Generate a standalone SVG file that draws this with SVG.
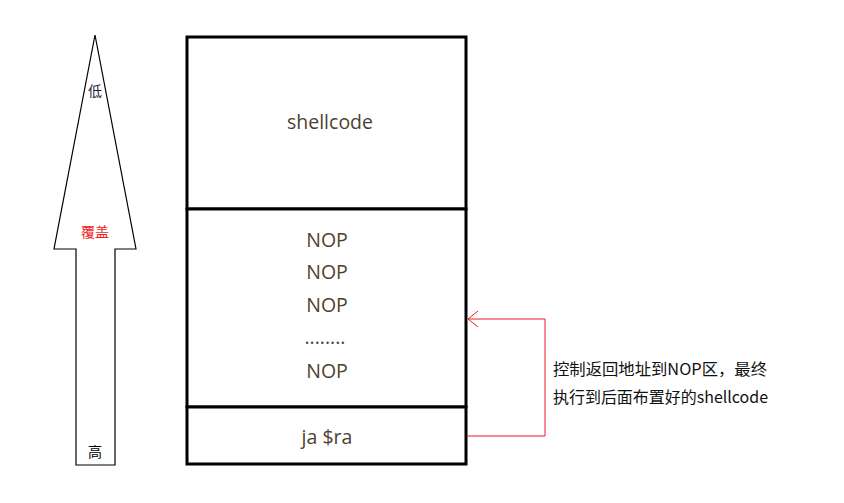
<svg xmlns="http://www.w3.org/2000/svg" width="844" height="503" viewBox="0 0 844 503">
<style>
.lbl{font-family:"Open Sans","Noto Sans CJK SC",sans-serif;font-size:19.5px;fill:#4f3f2f;text-anchor:middle}
.cj{font-family:"Noto Sans CJK SC",sans-serif;font-size:14px;text-anchor:middle}
.note{font-family:"Noto Sans CJK SC",sans-serif;font-size:16px;fill:#111}
.box{fill:#fff;stroke:#000;stroke-width:3}
</style>
<rect width="844" height="503" fill="#fff"/>
<g id="arrow">
<polygon points="95,35 136,249 115,249 115,465 76,465 76,249 54,249" fill="#fff" stroke="#000" stroke-width="1.2"/>
<text class="cj" x="95" y="96" fill="#1a1a3a">低</text>
<text class="cj" x="95" y="237" fill="#f02020">覆盖</text>
<text class="cj" x="95" y="457" fill="#000">高</text>
</g>
<g id="shellcode">
<rect class="box" x="187" y="37" width="279" height="172"/>
<text class="lbl" x="330" y="129">shellcode</text>
</g>
<g id="nop">
<rect class="box" x="187" y="209" width="279" height="198"/>
<text class="lbl" x="327" y="247">NOP</text>
<text class="lbl" x="327" y="279">NOP</text>
<text class="lbl" x="327" y="312">NOP</text>
<text class="lbl" x="325" y="344">........</text>
<text class="lbl" x="327" y="378">NOP</text>
</g>
<g id="ra">
<rect class="box" x="187" y="407" width="279" height="57"/>
<text class="lbl" x="327" y="444">ja $ra</text>
</g>
<g id="connectors">
<polyline points="467,436 545,436 545,319 468,319" fill="none" stroke="#e81c24" stroke-width="1"/>
<polyline points="478,311 468,319 478,327" fill="none" stroke="#e81c24" stroke-width="1"/>
</g>
<g id="note">
<text class="note" x="553" y="375" textLength="214" lengthAdjust="spacingAndGlyphs">控制返回地址到NOP区，最终</text>
<text class="note" x="553" y="403" textLength="215" lengthAdjust="spacingAndGlyphs">执行到后面布置好的shellcode</text>
</g>
</svg>
